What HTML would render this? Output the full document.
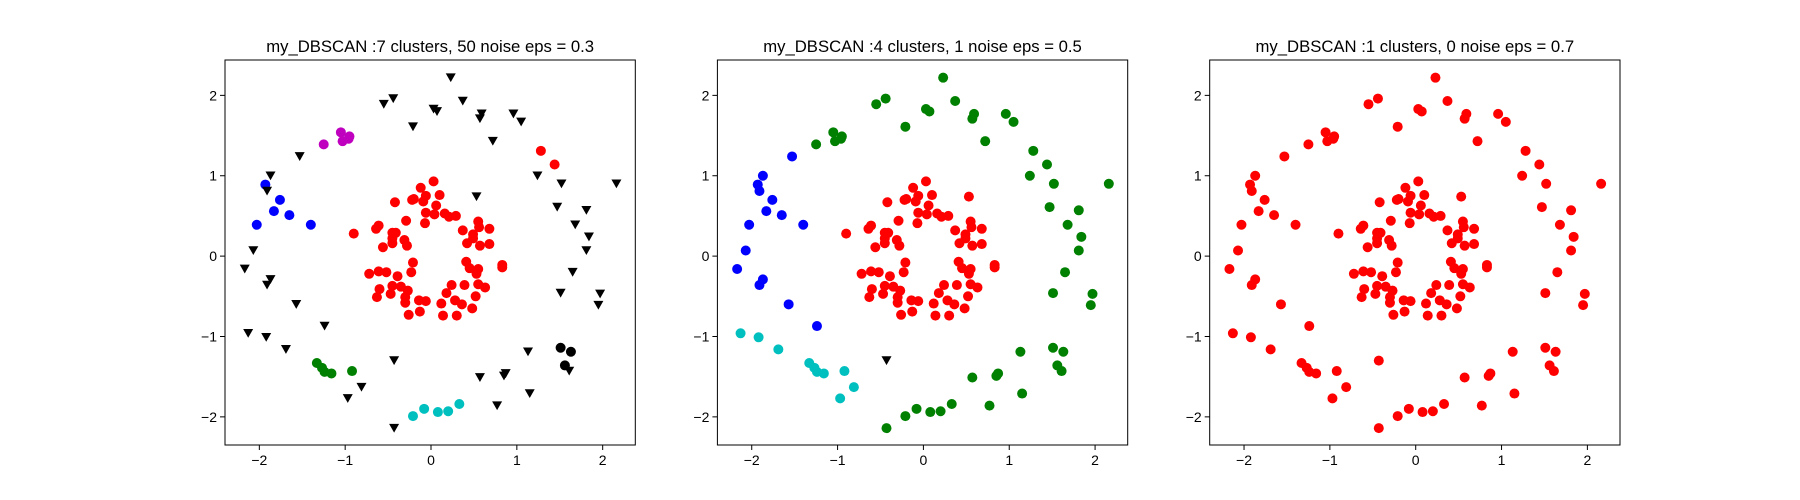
<!DOCTYPE html>
<html><head><meta charset="utf-8"><style>
html,body{margin:0;padding:0;background:#fff;}
svg{display:block;font-family:"Liberation Sans","DejaVu Sans",sans-serif;}
</style></head><body>
<svg id="fig" width="1800" height="500" viewBox="0 0 1800 500"></svg>
<script>
const xs = [0.03,-0.12,-0.06,-0.09,0.10,-0.22,-0.20,-0.42,0.06,-0.06,0.04,0.16,0.21,0.29,-0.07,-0.29,-0.61,-0.64,-0.90,-0.45,-0.41,-0.45,-0.45,-0.31,-0.28,-0.56,0.55,0.56,0.68,0.37,0.49,0.49,0.42,0.57,0.68,-0.21,-0.23,-0.72,-0.61,-0.52,-0.39,-0.60,-0.63,-0.47,-0.45,-0.35,-0.27,-0.30,-0.30,-0.14,-0.06,-0.13,-0.26,0.12,0.14,0.30,0.18,0.24,0.28,0.36,0.48,0.39,0.52,0.55,0.63,0.41,0.45,0.55,0.53,0.83,0.83,0.53,
-1.05,-0.95,-1.03,-0.96,-1.25,
-1.93,-1.76,-1.83,-1.65,-1.40,-2.03,
1.28,1.44,
-1.33,-1.27,-1.24,-1.16,-0.92,
-0.21,-0.08,0.08,0.20,0.33,
1.51,1.63,1.56,
-1.53,-1.87,-1.91,-2.07,-2.17,-1.87,-1.91,-1.57,-1.24,
-2.13,-1.92,-1.69,-0.97,-0.81,
-0.43,
0.23,-0.44,-0.55,0.03,0.07,0.37,0.59,0.57,0.96,1.05,0.72,-0.21,-0.43,0.57,0.85,0.87,0.77,1.13,1.15,1.61,1.95,1.97,1.51,1.65,1.81,1.84,1.81,1.68,1.47,1.52,2.16,1.24];
const ys = [0.93,0.85,0.75,0.68,0.76,0.70,0.71,0.67,0.63,0.54,0.52,0.53,0.49,0.50,0.41,0.44,0.38,0.34,0.28,0.29,0.29,0.22,0.16,0.20,0.13,0.11,0.43,0.36,0.34,0.32,0.27,0.22,0.16,0.13,0.15,-0.08,-0.20,-0.22,-0.19,-0.20,-0.25,-0.41,-0.51,-0.47,-0.37,-0.38,-0.43,-0.51,-0.58,-0.55,-0.56,-0.69,-0.73,-0.59,-0.74,-0.74,-0.46,-0.36,-0.55,-0.60,-0.65,-0.36,-0.50,-0.35,-0.39,-0.07,-0.15,-0.16,-0.22,-0.11,-0.14,0.74,
1.54,1.49,1.43,1.46,1.39,
0.89,0.70,0.56,0.51,0.39,0.39,
1.31,1.14,
-1.33,-1.39,-1.44,-1.46,-1.43,
-1.99,-1.90,-1.94,-1.93,-1.84,
-1.14,-1.19,-1.36,
1.24,1.00,0.81,0.07,-0.16,-0.29,-0.36,-0.60,-0.87,
-0.96,-1.01,-1.16,-1.77,-1.63,
-1.30,
2.22,1.96,1.89,1.83,1.80,1.93,1.77,1.71,1.77,1.67,1.43,1.61,-2.14,-1.51,-1.49,-1.46,-1.86,-1.19,-1.71,-1.43,-0.61,-0.47,-0.46,-0.20,0.07,0.24,0.57,0.39,0.61,0.90,0.90,1.00];
function rep(s,n){return Array(n).fill(s);}
const labels1 = [].concat(rep('r',71),['n'],rep('m',5),rep('b',6),rep('r',2),rep('g',5),rep('c',5),rep('k',3),rep('n',9),rep('n',5),['n'],rep('n',32));
const labels2 = [].concat(rep('r',72),rep('g',5),rep('b',6),rep('g',2),rep('c',5),rep('g',5),rep('g',3),rep('b',9),rep('c',5),['n'],rep('g',32));
const labels3 = rep('r',xs.length);
const titles = ["my_DBSCAN :7 clusters, 50 noise eps = 0.3","my_DBSCAN :4 clusters, 1 noise eps = 0.5","my_DBSCAN :1 clusters, 0 noise eps = 0.7"];
const ticks = [-2,-1,0,1,2];
const xlim=[-2.40,2.38], ylim=[-2.35,2.44];
const colors={r:'#ff0000',g:'#008000',b:'#0000ff',c:'#00bfbf',m:'#bf00bf',k:'#000000',n:'#000000'};
const NS='http://www.w3.org/2000/svg';
const svg=document.getElementById('fig');
function mk(tag,attrs,parent){const e=document.createElementNS(NS,tag);for(const k in attrs)e.setAttribute(k,attrs[k]);(parent||svg).appendChild(e);return e;}
const axLeft=[225,717.4,1209.7], axW=410.3, axTop=60, axH=385;
const allLabels=[labels1,labels2,labels3];
for(let p=0;p<3;p++){
  const L=axLeft[p];
  const sx=v=>L+(v-xlim[0])/(xlim[1]-xlim[0])*axW;
  const sy=v=>axTop+axH-(v-ylim[0])/(ylim[1]-ylim[0])*axH;
  const g=mk('g',{});
  
  
  const pts=mk('g',{},g);
  
  
  const lab=allLabels[p];
  for(let i=0;i<xs.length;i++){
    const cx=sx(xs[i]), cy=sy(ys[i]), c=colors[lab[i]];
    let e;
    if(lab[i]==='n'){
      e=mk('polygon',{points:`${cx-5},${cy-4.3} ${cx+5},${cy-4.3} ${cx},${cy+4.5}`,fill:c},pts);
      
    } else {
      e=mk('circle',{cx:cx,cy:cy,r:5,fill:c},pts);
      
    }
    
  }
  const fr=mk('rect',{x:L,y:axTop,width:axW,height:axH,fill:'none',stroke:'#000','stroke-width':1},g);
  
  
  for(const t of ticks){
    const x=sx(t), y=sy(t);
    mk('line',{x1:x,y1:axTop+axH,x2:x,y2:axTop+axH+5,stroke:'#000'},g);
    const tx=mk('text',{x:x,y:axTop+axH+20,'text-anchor':'middle','font-size':'14'},g);
    tx.textContent=t<0?'\u2212'+(-t):String(t);
    
    
    mk('line',{x1:L,y1:y,x2:L-5,y2:y,stroke:'#000'},g);
    const ty=mk('text',{x:L-8,y:y+5,'text-anchor':'end','font-size':'14'},g);
    ty.textContent=t<0?'\u2212'+(-t):String(t);
    
    
  }
  const tt=mk('text',{x:L+axW/2,y:axTop-8,'text-anchor':'middle','font-size':'16.7'},g);
  tt.textContent=titles[p];
  
  
}
</script>
</body></html>
